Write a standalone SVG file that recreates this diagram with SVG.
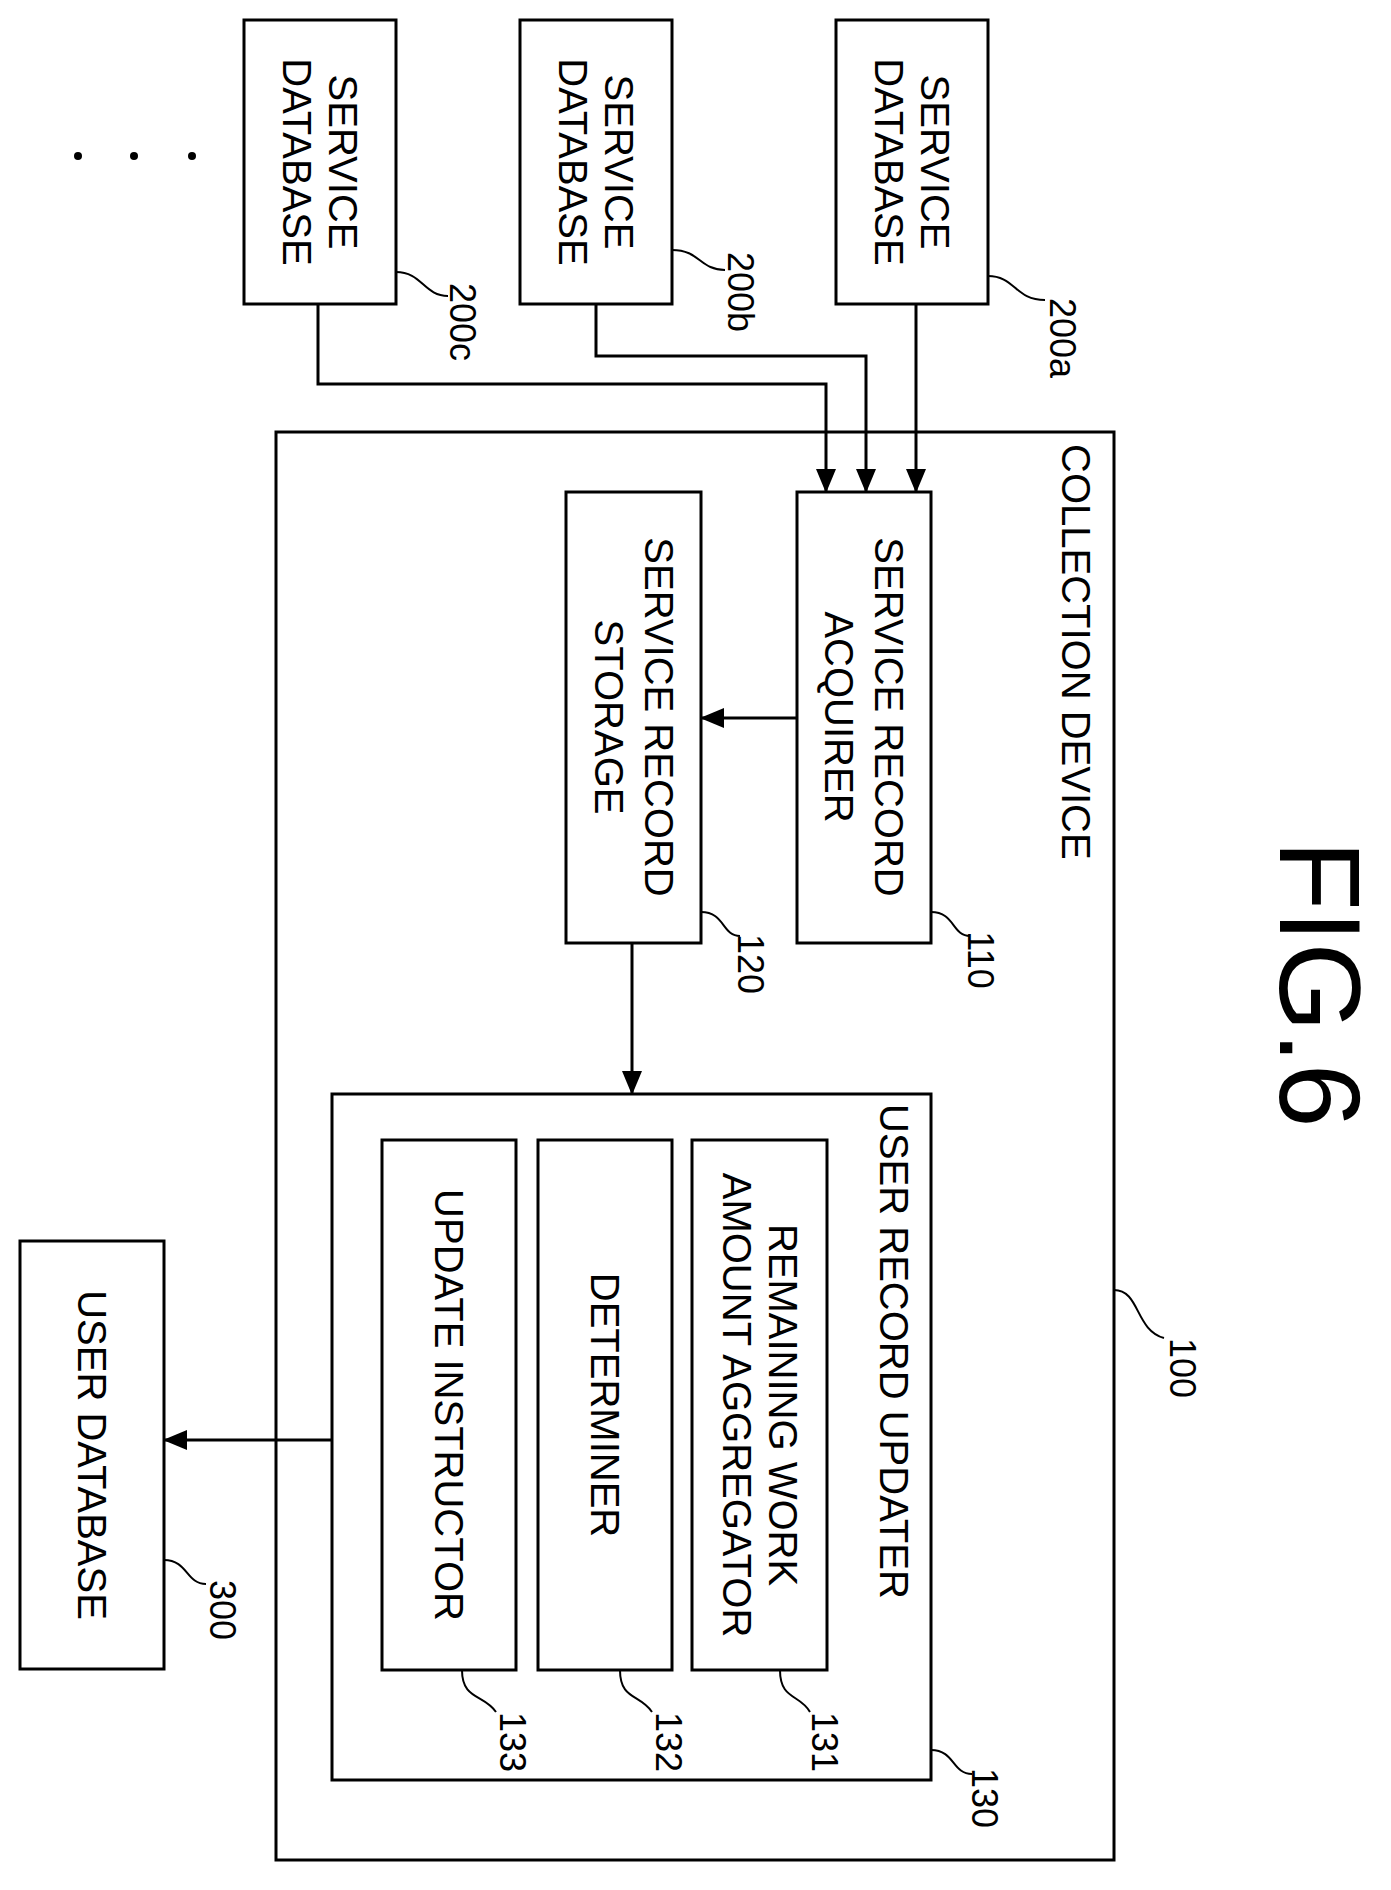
<svg xmlns="http://www.w3.org/2000/svg" width="1391" height="1890" viewBox="0 0 1391 1890">
<defs><marker id="ah" markerWidth="24" markerHeight="20" refX="23" refY="10" orient="auto" markerUnits="userSpaceOnUse"><path d="M0,0 L24,10 L0,20 z" fill="#000"/></marker></defs>
<style>
rect{fill:#fff;stroke:#000;stroke-width:3}
text{font-family:"Liberation Sans",Arial,sans-serif;font-size:40px;fill:#000}
.c{text-anchor:middle;dominant-baseline:central}
.r{font-size:36px}
.l{fill:none;stroke:#000;stroke-width:2}
.cn{fill:none;stroke:#000;stroke-width:3;marker-end:url(#ah)}
</style>
<rect width="1391" height="1890" style="fill:#fff;stroke:none"/>
<text transform="translate(1320,984) rotate(90)" class="c" style="font-size:115px">FIG.6</text>
<g id="dots"><circle cx="78" cy="156" r="4"/><circle cx="134" cy="156" r="4"/><circle cx="192" cy="156" r="4"/></g>
<g id="n100"><rect x="276" y="432" width="838" height="1428"/>
<text transform="translate(1076,444) rotate(90)" style="dominant-baseline:central">COLLECTION DEVICE</text>
<path class="l" d="M1114,1290 C1140,1290 1135,1330 1164,1338"/><text class="c r" transform="translate(1182,1368) rotate(90)">100</text></g>
<g id="n200a"><rect x="836" y="20" width="152" height="284"/>
<text transform="translate(912,162) rotate(90)" class="c"><tspan x="0" y="-23">SERVICE</tspan><tspan x="0" y="23">DATABASE</tspan></text>
<path class="l" d="M988,276 C1015,276 1015,300 1045,300"/><text class="c r" transform="translate(1062,338) rotate(90)">200a</text></g>
<g id="n200b"><rect x="520" y="20" width="152" height="284"/>
<text transform="translate(596,162) rotate(90)" class="c"><tspan x="0" y="-23">SERVICE</tspan><tspan x="0" y="23">DATABASE</tspan></text>
<path class="l" d="M672,250 C700,250 700,270 725,270"/><text class="c r" transform="translate(740,292) rotate(90)">200b</text></g>
<g id="n200c"><rect x="244" y="20" width="152" height="284"/>
<text transform="translate(320,162) rotate(90)" class="c"><tspan x="0" y="-23">SERVICE</tspan><tspan x="0" y="23">DATABASE</tspan></text>
<path class="l" d="M396,272 C422,272 424,296 448,296"/><text class="c r" transform="translate(462,322) rotate(90)">200c</text></g>
<g id="n110"><rect x="797" y="492" width="134" height="451"/>
<text transform="translate(864,717) rotate(90)" class="c"><tspan x="0" y="-25">SERVICE RECORD</tspan><tspan x="0" y="25">ACQUIRER</tspan></text>
<path class="l" d="M931,912 C955,912 952,936 970,936"/><text class="c r" transform="translate(980,960) rotate(90)">110</text></g>
<g id="n120"><rect x="566" y="492" width="135" height="451"/>
<text transform="translate(634,717) rotate(90)" class="c"><tspan x="0" y="-25">SERVICE RECORD</tspan><tspan x="0" y="25">STORAGE</tspan></text>
<path class="l" d="M701,912 C725,912 722,936 740,936"/><text class="c r" transform="translate(750,964) rotate(90)">120</text></g>
<g id="n130"><rect x="332" y="1094" width="599" height="686"/>
<text transform="translate(894,1104) rotate(90)" style="dominant-baseline:central">USER RECORD UPDATER</text>
<path class="l" d="M931,1750 C955,1750 952,1774 972,1774"/><text class="c r" transform="translate(984,1798) rotate(90)">130</text></g>
<g id="n131"><rect x="692" y="1140" width="135" height="530"/>
<text transform="translate(760,1405) rotate(90)" class="c"><tspan x="0" y="-23">REMAINING WORK</tspan><tspan x="0" y="23">AMOUNT AGGREGATOR</tspan></text>
<path class="l" d="M780,1670 C780,1700 800,1694 810,1712"/><text class="c r" transform="translate(824,1742) rotate(90)">131</text></g>
<g id="n132"><rect x="538" y="1140" width="134" height="530"/>
<text transform="translate(605,1405) rotate(90)" class="c">DETERMINER</text>
<path class="l" d="M620,1670 C620,1700 640,1694 652,1712"/><text class="c r" transform="translate(668,1742) rotate(90)">132</text></g>
<g id="n133"><rect x="382" y="1140" width="134" height="530"/>
<text transform="translate(449,1405) rotate(90)" class="c">UPDATE INSTRUCTOR</text>
<path class="l" d="M462,1670 C462,1700 484,1694 496,1712"/><text class="c r" transform="translate(512,1742) rotate(90)">133</text></g>
<g id="n300"><rect x="20" y="1241" width="144" height="428"/>
<text transform="translate(92,1455) rotate(90)" class="c">USER DATABASE</text>
<path class="l" d="M164,1560 C188,1560 186,1584 206,1584"/><text class="c r" transform="translate(222,1610) rotate(90)">300</text></g>
<g id="connectors">
<path class="cn" d="M916,304 V492"/>
<path class="cn" d="M596,304 V356 H866 V492"/>
<path class="cn" d="M318,304 V384 H826 V492"/>
<path class="cn" d="M797,718 H701"/>
<path class="cn" d="M632,943 V1094"/>
<path class="cn" d="M332,1440 H164"/>
</g>
</svg>
